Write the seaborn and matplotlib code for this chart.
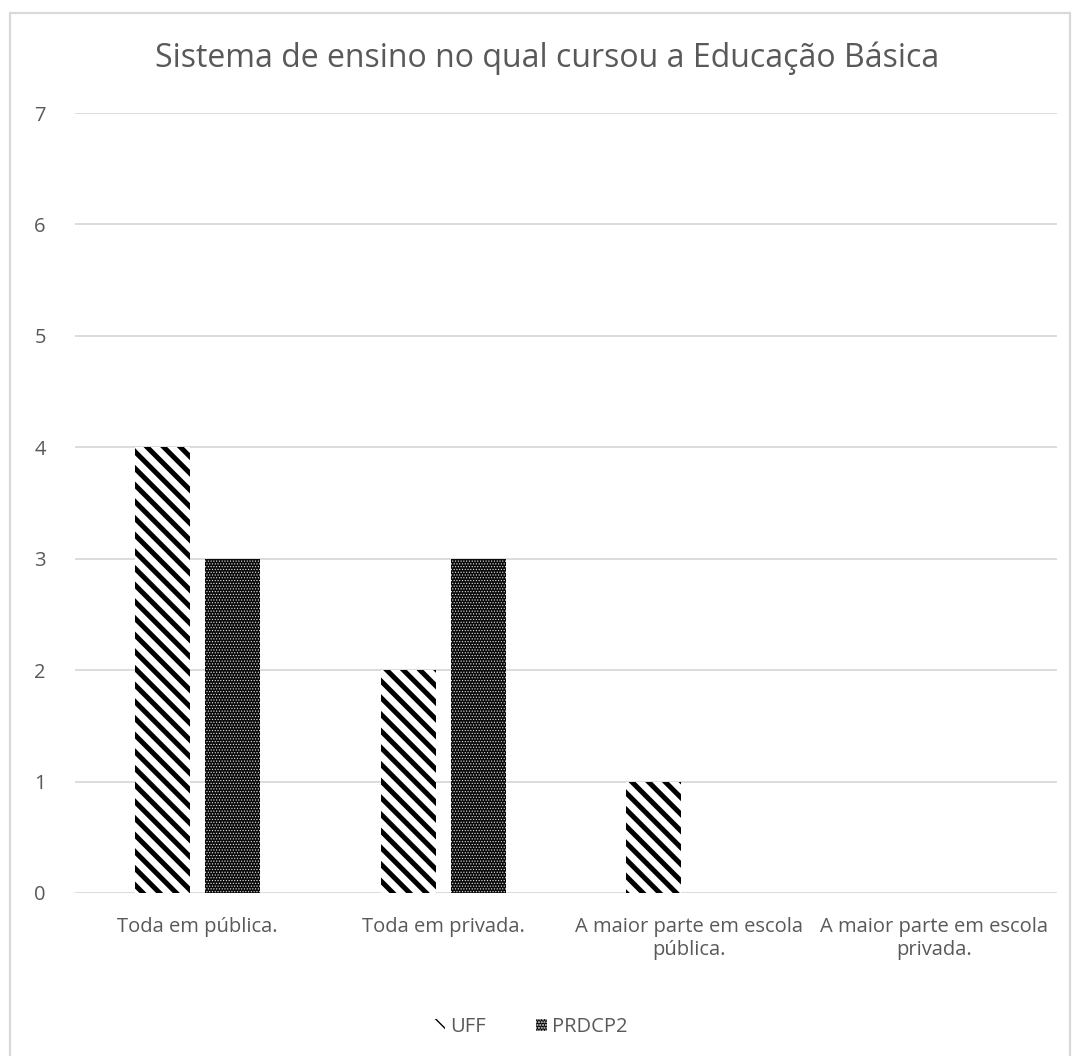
import matplotlib
matplotlib.use("Agg")
import matplotlib.pyplot as plt
from matplotlib.patches import Patch, Rectangle
import seaborn as sns
import pandas as pd

categories = ["Toda em pública.", "Toda em privada.",
              "A maior parte em escola\npública.", "A maior parte em escola\nprivada."]
series = ["UFF", "PRDCP2"]
uff_values = [4, 2, 1, 0]
prdcp2_values = [3, 3, 0, 0]
y_ticks = [0, 1, 2, 3, 4, 5, 6, 7]
title = "Sistema de ensino no qual cursou a Educação Básica"

df = pd.DataFrame({
    "cat": categories * 2,
    "serie": [series[0]] * 4 + [series[1]] * 4,
    "val": uff_values + prdcp2_values,
})

sns.set_theme(style="white")
plt.rcParams["font.family"] = ["Open Sans", "DejaVu Sans"]
TXT = "#595959"
GRID = "#d9d9d9"

fig = plt.figure(figsize=(10.72, 10.56), dpi=100)
W, H = 1072, 1056
ax = fig.add_axes([75 / W, 1 - 893 / H, (1057 - 75) / W, (893 - 113) / H])

sns.barplot(data=df, x="cat", y="val", hue="serie", hue_order=series,
            order=categories, width=0.567, gap=0.21, legend=False, ax=ax,
            palette=["white", "#1c1c1c"], saturation=1, linewidth=0)

styles = [dict(fc="white", ec="black", hatch="\\\\", hlw=3.6),
          dict(fc="#0a0a0a", ec="#e6e6e6", hatch="......", hlw=0.5)]
for cont, st in zip(ax.containers, styles):
    for bar in cont:
        bar.set_facecolor(st["fc"])
        bar.set_edgecolor(st["ec"])
        bar.set_hatch(st["hatch"])
        bar.set_linewidth(0)
        if hasattr(bar, "set_hatch_linewidth"):
            bar.set_hatch_linewidth(st["hlw"])

ax.set_ylim(0, 7)
ax.set_xlim(-0.5, 3.5)
ax.set_yticks(y_ticks)
ax.set_xlabel("")
ax.set_ylabel("")
ax.yaxis.grid(True, color=GRID, lw=1.3)
ax.set_axisbelow(True)
for s in ax.spines.values():
    s.set_visible(False)
ax.tick_params(axis="y", length=0, pad=21, labelsize=14.5, labelcolor=TXT)
ax.tick_params(axis="x", length=0, pad=17, labelsize=14.5, labelcolor=TXT)
for lab in ax.get_xticklabels():
    lab.set_multialignment("center")
    lab.set_linespacing(1.25)

fig.text(547 / W, 1 - 67 / H, title, ha="center", va="baseline",
         fontsize=23, color=TXT)

handles = []
for st in styles:
    p = Patch(facecolor=st["fc"], edgecolor=st["ec"], hatch=st["hatch"], linewidth=0)
    if hasattr(p, "set_hatch_linewidth"):
        p.set_hatch_linewidth(st["hlw"])
    handles.append(p)
fig.legend(handles, series, loc="center", bbox_to_anchor=(0.495, 1 - 1027 / H),
           ncol=2, frameon=False, handlelength=0.55, handleheight=0.55,
           handletextpad=0.25, columnspacing=2.5, fontsize=14.5, labelcolor=TXT)

fig.patches.append(Rectangle((9.5 / W, -0.02), (1070 - 9.5) / W, (1056 - 13) / H + 0.02,
                             transform=fig.transFigure, fill=False,
                             edgecolor=GRID, lw=1.6))

fig.savefig("out.png", dpi=100, facecolor="white")
